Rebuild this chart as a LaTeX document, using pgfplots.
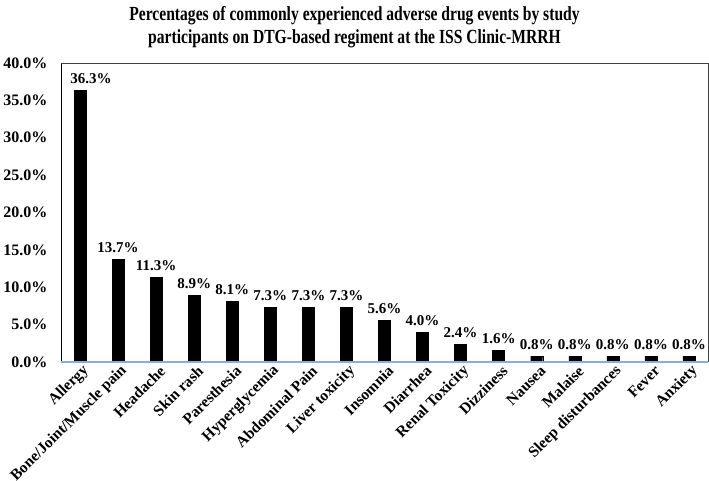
\documentclass[border=0pt]{standalone}
\usepackage{pgfplots}
\pgfplotsset{compat=1.18}
\usepackage{fontspec}
\setmainfont{Liberation Serif}
\newfontfamily\titlefont{Liberation Serif}[FakeStretch=0.78]
\definecolor{baseblue}{RGB}{132,176,222}
\definecolor{framegray}{RGB}{64,64,64}

\pgfplotstableread{
idx val
0  36.3
1  13.7
2  11.3
3  8.9
4  8.1
5  7.3
6  7.3
7  7.3
8  5.6
9  4.0
10 2.4
11 1.6
12 0.8
13 0.8
14 0.8
15 0.8
16 0.8
}\adetable

\begin{document}
\begin{tikzpicture}
\useasboundingbox (0pt,0pt) rectangle (709pt,481pt);
\node[font=\titlefont\bfseries\fontsize{20}{23}\selectfont, anchor=base] at (354.5pt,460pt) {Percentages of commonly experienced adverse drug events by study};
\node[font=\titlefont\bfseries\fontsize{20}{23}\selectfont, anchor=base] at (354.5pt,437pt) {participants on DTG-based regiment at the ISS Clinic-MRRH};
\begin{axis}[
    at={(61pt,119pt)}, anchor=south west,
    scale only axis,
    width=647pt, height=299pt,
    xmin=-0.5, xmax=16.5,
    ymin=0, ymax=40,
    ytick={0,5,...,40},
    xtick=data,
    xticklabels={Allergy,Bone/Joint/Muscle pain,Headache,Skin rash,Paresthesia,Hyperglycemia,Abdominal Pain,Liver toxicity,Insomnia,Diarrhea,Renal Toxicity,Dizziness,Nausea,Malaise,Sleep disturbances,Fever,Anxiety},
    x tick label style={rotate=45, anchor=east, font=\bfseries\fontsize{15.5}{17}\selectfont, inner sep=1pt, yshift=-6pt, xshift=4pt},
    y tick label style={font=\bfseries\fontsize{16}{18}\selectfont, xshift=-10pt, /pgf/number format/.cd, fixed, fixed zerofill, precision=1, assume math mode=true},
    yticklabel={\pgfmathprintnumber{\tick}\%},
    tick style={draw=none},
    axis line style={draw=none},
    ybar, bar width=12pt,
    nodes near coords={\pgfmathprintnumber[fixed,fixed zerofill,precision=1,assume math mode=true]{\pgfplotspointmeta}\%},
    every node near coord/.append style={font=\bfseries\fontsize{15}{17}\selectfont, black, yshift=3pt},
    coordinate style/.condition={x==0}{xshift=11pt},
    clip=false,
]
\addplot[fill=black, draw=black] table[x=idx, y=val] {\adetable};
\draw[black, line width=0.8pt] (rel axis cs:0,0) -- (rel axis cs:0,1);
\draw[framegray, line width=0.8pt] (rel axis cs:0,1) -- (rel axis cs:1,1) -- (rel axis cs:1,0);
\draw[baseblue, line width=1.2pt] (rel axis cs:0,0) -- (rel axis cs:1,0);
\end{axis}
\end{tikzpicture}
\end{document}
